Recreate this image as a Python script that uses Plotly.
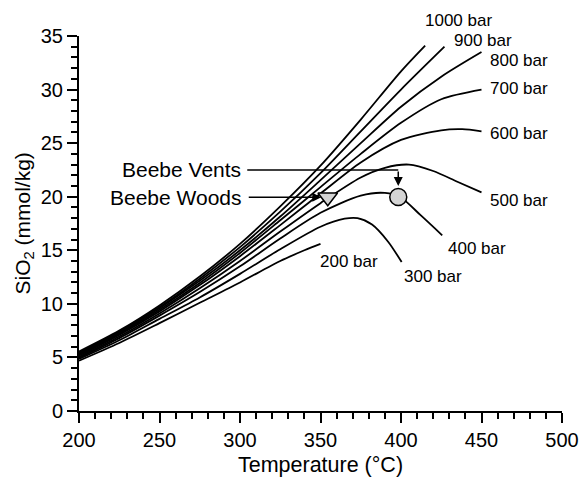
import plotly.graph_objects as go

# Quartz solubility isobars: temperature (°C) and dissolved SiO2 (mmol/kg)
t_1000 = [200, 225, 250, 275, 300, 325, 350, 375, 400, 415]
si_1000 = [5.55, 7.5, 9.85, 12.55, 15.6, 19.1, 22.9, 27.2, 31.7, 34.1]

t_900 = [200, 225, 250, 275, 300, 325, 350, 375, 400, 427]
si_900 = [5.45, 7.4, 9.7, 12.35, 15.3, 18.6, 22.2, 26.1, 30.0, 34.0]

t_800 = [200, 225, 250, 275, 300, 325, 350, 375, 400, 425, 450]
si_800 = [5.35, 7.3, 9.6, 12.15, 15.0, 18.15, 21.55, 25.0, 28.4, 31.2, 33.5]

t_700 = [200, 225, 250, 275, 300, 325, 350, 375, 400, 425, 450]
si_700 = [5.25, 7.2, 9.45, 11.95, 14.75, 17.8, 20.9, 24.0, 26.9, 29.1, 30.0]

t_600 = [200, 225, 250, 275, 300, 325, 350, 375, 400, 425, 438, 450]
si_600 = [5.15, 7.1, 9.3, 11.75, 14.45, 17.35, 20.3, 23.2, 25.3, 26.2, 26.3, 26.1]

t_500 = [200, 225, 250, 275, 300, 325, 350, 375, 390, 405, 420, 435, 450]
si_500 = [5.05, 6.95, 9.1, 11.45, 14.0, 16.75, 19.4, 21.8, 22.7, 23.0, 22.4, 21.4, 20.4]

t_400 = [200, 225, 250, 275, 300, 325, 350, 375, 390, 400, 412, 425.6]
si_400 = [4.95, 6.8, 8.9, 11.1, 13.5, 16.1, 18.5, 20.1, 20.35, 19.9, 18.3, 16.4]

t_300 = [200, 225, 250, 275, 300, 325, 350, 365, 373, 382, 392, 400.4]
si_300 = [4.85, 6.6, 8.6, 10.6, 12.8, 15.1, 17.2, 17.95, 18.0, 17.4, 15.8, 13.9]

t_200 = [200, 225, 250, 275, 300, 325, 340, 350]
si_200 = [4.7, 6.35, 8.2, 10.1, 12.0, 14.0, 15.0, 15.6]

isobars = [
    ("1000 bar", t_1000, si_1000),
    ("900 bar", t_900, si_900),
    ("800 bar", t_800, si_800),
    ("700 bar", t_700, si_700),
    ("600 bar", t_600, si_600),
    ("500 bar", t_500, si_500),
    ("400 bar", t_400, si_400),
    ("300 bar", t_300, si_300),
    ("200 bar", t_200, si_200),
]

# Isobar label anchor points (left edge of text)
label_t = [413.7, 431.5, 454.2, 454.2, 454.2, 454.2, 427.7, 400.4, 348.3]
label_si = [36.4, 34.55, 32.7, 30.07, 25.9, 19.6, 15.2, 12.6, 14.0]

# Field samples
woods_t, woods_si = [354.5], [19.95]
vents_t, vents_si = [398.3], [19.97]

T_RANGE = [200, 500]
SI_RANGE = [0, 35]

FONT = "Liberation Sans, Arial, Helvetica, sans-serif"

fig = go.Figure()
for name, t, si in isobars:
    fig.add_trace(go.Scatter(
        x=t, y=si, mode="lines", name=name,
        line=dict(color="black", width=1.8, shape="spline", smoothing=0.8),
        showlegend=False, hoverinfo="skip",
    ))

fig.add_trace(go.Scatter(
    x=woods_t, y=woods_si, mode="markers", showlegend=False,
    marker=dict(symbol="triangle-down", size=17, color="#d4d4d4",
                line=dict(color="black", width=1.5)),
))
fig.add_trace(go.Scatter(
    x=vents_t, y=vents_si, mode="markers", showlegend=False,
    marker=dict(symbol="circle", size=17, color="#d4d4d4",
                line=dict(color="black", width=1.5)),
))


def si_to_paper(v):
    return (v - SI_RANGE[0]) / (SI_RANGE[1] - SI_RANGE[0])


annotations = []
for (name, _, _), lt, ls in zip(isobars, label_t, label_si):
    annotations.append(dict(
        x=lt, y=si_to_paper(ls), xref="x", yref="paper", text=name, showarrow=False,
        xanchor="left", yanchor="middle", font=dict(size=17, color="black", family=FONT),
    ))

# Beebe Vents: horizontal leader then downward arrow onto the circle
vents_leader_y = 22.5
annotations.append(dict(
    x=302, y=vents_leader_y, xref="x", yref="y", text="Beebe Vents", showarrow=False,
    xanchor="right", yanchor="middle", font=dict(size=21, color="black", family=FONT),
))
annotations.append(dict(
    x=vents_t[0], y=21.0, ax=vents_t[0], ay=vents_leader_y,
    xref="x", yref="y", axref="x", ayref="y", text="", showarrow=True,
    arrowhead=2, arrowsize=1.2, arrowwidth=1.5, arrowcolor="black",
))

# Beebe Woods: horizontal arrow onto the triangle
annotations.append(dict(
    x=302.7, y=woods_si[0], xref="x", yref="y", text="Beebe Woods", showarrow=False,
    xanchor="right", yanchor="middle", font=dict(size=21, color="black", family=FONT),
))
annotations.append(dict(
    x=350.5, y=woods_si[0], ax=304.5, ay=woods_si[0],
    xref="x", yref="y", axref="x", ayref="y", text="", showarrow=True,
    arrowhead=2, arrowsize=1.2, arrowwidth=1.5, arrowcolor="black",
))

# Y-axis title placed as rotated text left of the tick labels
annotations.append(dict(
    x=0, y=0.5, xref="paper", yref="paper", xshift=-56, text="SiO<sub>2</sub> (mmol/kg)",
    showarrow=False, textangle=-90, xanchor="center", yanchor="middle",
    font=dict(size=21, color="black", family=FONT),
))

fig.add_shape(type="line", x0=304.5, x1=vents_t[0], y0=vents_leader_y, y1=vents_leader_y,
              xref="x", yref="y", line=dict(color="black", width=1.5))

axis_common = dict(
    showgrid=False, zeroline=False, showline=True, linecolor="black", linewidth=2,
    ticks="outside", ticklen=10, tickwidth=1.5, tickcolor="black",
    tickfont=dict(size=20, color="black", family=FONT),
    automargin=False,
)

fig.update_xaxes(
    range=T_RANGE, dtick=50, tick0=200,
    title_text="Temperature (°C)",
    title_font=dict(size=21.5, color="black", family=FONT),
    minor=dict(dtick=10, ticks="outside", ticklen=6, tickwidth=1.5, tickcolor="black"),
    **axis_common,
)
fig.update_yaxes(
    range=SI_RANGE, dtick=5, tick0=0,
    minor=dict(dtick=1, ticks="outside", ticklen=6, tickwidth=1.5, tickcolor="black"),
    **axis_common,
)

fig.update_layout(
    width=581, height=477,
    margin=dict(l=79, r=19, t=36, b=66),
    plot_bgcolor="white", paper_bgcolor="white",
    annotations=annotations,
    font=dict(family=FONT, color="black"),
)

fig.write_html("out.html")
